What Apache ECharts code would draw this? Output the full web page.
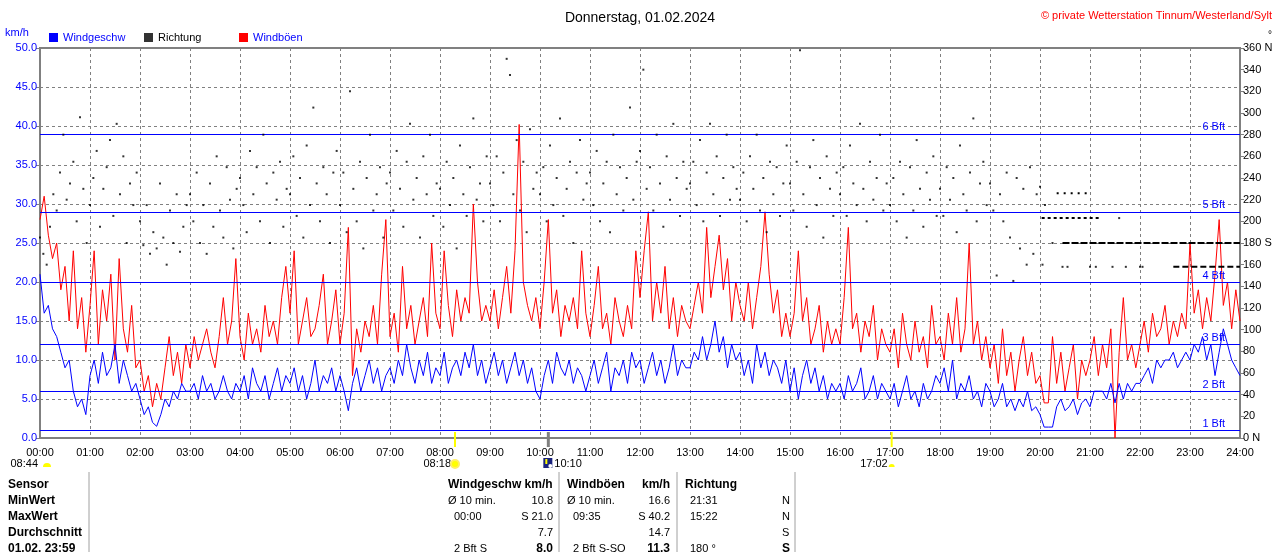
<!DOCTYPE html>
<html>
<head>
<meta charset="utf-8">
<title>Wind Tinnum 01.02.2024</title>
<script src="https://cdn.jsdelivr.net/npm/echarts@6/dist/echarts.min.js"></script>
<style>
  html, body { margin: 0; padding: 0; background: #fff; }
  #main { width: 1280px; height: 552px; }
</style>
</head>
<body>
<div id="main"></div>
<script>
// Windgeschwindigkeit km/h, alle 5 Minuten von 00:00 bis 24:00 (eine Zeile pro Stunde)
var windSpeed = [
  21, 16, 17, 14, 13, 11, 9, 10, 6, 4, 5, 3,
  8, 10, 7, 11, 8, 9, 12, 7, 10, 8, 6, 7,
  5, 3, 4, 2, 1.5, 3, 5, 4, 6, 5, 7, 6,
  6, 7, 5, 8, 6, 7, 5, 6, 8, 6, 5, 7,
  6, 8, 5, 9, 7, 6, 8, 5, 7, 9, 6, 8,
  7, 9, 6, 8, 5, 7, 10, 6, 8, 7, 9, 6,
  8, 6, 3.5, 7, 9, 6, 8, 10, 7, 9, 6, 8,
  9, 7, 10, 8, 12, 9, 7, 10, 8, 11, 7, 9,
  8, 11, 7, 9, 10, 8, 11, 9, 12, 8, 10, 7,
  9, 11, 8, 10, 7, 9, 11, 8, 10, 7, 9, 6,
  5, 8, 10, 7, 11, 9, 8, 10, 7, 9, 8, 6,
  8, 10, 7, 9, 11, 6, 9, 8, 10, 7, 11, 9,
  10, 7, 9, 11, 8, 10, 7, 9, 12, 8, 10, 9,
  9, 11, 10, 13, 10, 12, 15, 11, 13, 9, 12, 10,
  11, 8, 10, 7, 12, 9, 11, 8, 10, 9, 7, 10,
  6, 9, 5, 8, 10, 7, 9, 6, 8, 5, 7, 6,
  7, 5, 8, 6, 7, 9, 5, 6, 8, 5, 7, 6,
  5, 7, 4, 6, 8, 5, 6, 4, 7, 5, 6, 8,
  7, 9, 6, 10, 5, 7, 6, 8, 5, 6, 4, 7,
  6, 4, 5, 7, 4, 5, 3.5, 5, 4, 6, 3.5, 4,
  3, 1.4, 1.4, 1.4, 4, 5, 3.5, 4, 5, 3, 4.5, 5,
  4, 6, 6, 6, 5, 7, 4.5, 7, 5, 7, 6, 7,
  7, 8, 9, 7, 10, 9, 10, 10, 11, 9, 10, 11,
  10, 12, 11, 13, 10, 12, 8, 11, 14, 12, 10, 9,
  8
];

// Windböen km/h, gleiche Zeitpunkte
var windGust = [
  28, 31, 26, 23, 25, 19, 22, 15, 24, 14, 18, 11,
  17, 24, 12, 19, 15, 21, 10, 23, 14, 11, 17, 9,
  10, 6, 8, 4, 7, 5, 9, 13, 8, 11, 7, 12,
  9, 13, 10, 12, 14, 11, 9, 13, 18, 12, 15, 23,
  13, 10, 16, 12, 14, 11, 17, 13, 15, 12, 18, 22,
  16, 24, 12, 15, 18, 13, 14, 17, 21, 12, 15, 19,
  12, 16, 27, 8, 14, 11, 15, 13, 17, 12, 21, 28,
  13, 16, 11, 22, 14, 17, 12, 15, 18, 13, 25, 16,
  14, 24, 17, 13, 19, 15, 18, 16, 30, 20, 15, 17,
  15, 19, 14, 18, 22, 16, 24, 40.2, 20, 17, 15, 18,
  14, 20, 28, 16, 19, 13, 17, 15, 18, 14, 24, 16,
  13, 17, 22, 14, 16, 12, 18, 15, 13, 17, 14, 24,
  18, 24, 29, 15, 20, 16, 22, 14, 18, 13, 17, 15,
  14, 17, 20, 16, 27, 18, 22, 26, 19, 23, 15, 20,
  17, 15, 20, 14, 18, 22, 29, 21, 16, 19, 13, 16,
  13, 16, 24, 15, 18, 12, 14, 17, 11, 15, 12, 14,
  12, 18, 27, 14, 16, 11, 15, 13, 17, 10, 14, 12,
  11, 14, 9, 16, 12, 10, 15, 11, 13, 9, 17, 12,
  13, 10, 16, 12, 18, 11, 14, 25, 12, 15, 10, 13,
  9, 12, 7, 14, 8, 11, 6, 10, 13, 8, 11, 7,
  8, 4.5, 4.5, 13, 7, 11, 6, 9, 12, 5, 10, 8,
  10, 13, 8, 12, 9, 14, 0, 11, 18, 10, 12, 9,
  12, 15, 11, 16, 13, 14, 17, 12, 15, 13, 16, 14,
  25, 16, 19, 14, 18, 15, 21, 28, 17, 20, 14, 19,
  15
];

// Windrichtung in Grad, alle 4 Minuten von 00:00 bis 19:56
var windDir = [
  185, 170, 160, 195, 225, 210, 245, 280, 220, 235, 255, 200, 296, 230, 180,
  215, 240, 265, 195, 230, 250, 275, 205, 290, 225, 260, 180, 235, 215, 245,
  200, 178, 215, 170, 190, 175, 235, 185, 160, 210, 180, 225, 172, 195, 215,
  225, 200, 245, 180, 215, 170, 235, 195, 260, 210, 185, 250, 220, 175, 230,
  240, 215, 190, 265, 225, 250, 200, 280, 235, 180, 245, 220, 255, 195, 230,
  225, 260, 205, 240, 185, 270, 215, 305, 235, 200, 250, 225, 180, 245, 265,
  215, 245, 190, 320, 230, 200, 255, 175, 240, 280, 210, 225, 250, 185, 235,
  245, 210, 265, 230, 195, 255, 290, 220, 240, 185, 260, 225, 280, 205, 235,
  230, 195, 255, 215, 240, 175, 270, 225, 205, 250, 295, 220, 235, 200, 260,
  235, 215, 260, 200, 245, 350, 335, 225, 275, 210, 255, 190, 285, 230, 245,
  225, 250, 200, 270, 215, 240, 295, 205, 230, 255, 180, 245, 275, 220, 235,
  245, 215, 265, 200, 235, 255, 190, 280, 225, 250, 210, 240, 305, 220, 255,
  265, 340, 230, 250, 210, 280, 235, 195, 260, 220, 290, 240, 205, 255, 230,
  235, 255, 215, 275, 200, 245, 290, 225, 260, 205, 240, 280, 220, 250, 230,
  220, 245, 200, 260, 230, 280, 210, 240, 190, 255, 225, 250, 205, 235, 270,
  235, 210, 255, 358, 225, 195, 250, 275, 215, 240, 185, 260, 230, 205, 245,
  225, 250, 205, 270, 235, 215, 290, 230, 200, 255, 220, 240, 280, 210, 235,
  215, 240, 200, 255, 225, 185, 250, 210, 275, 230, 195, 245, 220, 260, 205,
  230, 205, 250, 220, 240, 190, 270, 225, 210, 245, 295, 200, 235, 255, 215,
  235, 210, 150, 225, 200, 245, 185, 145, 240, 175, 230, 160, 250, 170, 225
];

// einzelne Richtungswerte nach 20:00 [Minute, Grad]
var lateDirs = [
  [1200, 232], [1203, 160], [1206, 215], [1215, 180], [1227, 158], [1233, 158],
  [1260, 158], [1267, 158], [1287, 158], [1295, 203], [1303, 158], [1320, 158], [1323, 158]
];

// fast konstante Richtung ab 20:00 [von Minute, bis Minute, Grad]
var dirRows = [
  [1220, 1257, 226],
  [1202, 1272, 203],
  [1227, 1440, 180],
  [1360, 1440, 158]
];

var bftLevels = [1, 6, 12, 20, 29, 39];
var compassTicks = { 0: '0 N', 180: '180 S', 360: '360 N' };

// Sonne / Mond (Minute des Tages)
var sunRise = 498, moonRise = 610, sunSet = 1022;

var rowLabels = ['Sensor', 'MinWert', 'MaxWert', 'Durchschnitt', '01.02. 23:59'];
var speedStats = [['Ø 10 min.', '10.8'], ['00:00', 'S 21.0'], ['', '7.7'], ['2 Bft S', '8.0']];
var gustStats = [['Ø 10 min.', '16.6'], ['09:35', 'S 40.2'], ['', '14.7'], ['2 Bft S-SO', '11.3']];
var dirStats = [['21:31', 'N'], ['15:22', 'N'], ['', 'S'], ['180 °', 'S']];

var FONT = '"Liberation Sans", Arial, sans-serif';

var speedData = windSpeed.map(function (v, i) { return [i * 5, v]; });
var gustData = windGust.map(function (v, i) { return [i * 5, v]; });
var dirData = windDir.map(function (v, i) { return [i * 4, v]; }).concat(lateDirs);

var rowSeries = dirRows.map(function (r, i) {
  var dash = [[2, 5], [3, 3], [7, 2], [6, 3]][i];
  return {
    name: 'Richtung', type: 'line', yAxisIndex: 1, z: 4,
    data: [[r[0], r[2]], [r[1], r[2]]],
    showSymbol: false, silent: true,
    lineStyle: { color: '#000', width: 2, type: dash }
  };
});

var chart = echarts.init(document.getElementById('main'));

chart.setOption({
  animation: false,
  textStyle: { fontFamily: FONT },
  title: [
    { text: 'Donnerstag, 01.02.2024', left: 'center', top: 6,
      textStyle: { fontSize: 14, fontWeight: 'normal', color: '#000', fontFamily: FONT } },
    { text: '© private Wetterstation Tinnum/Westerland/Sylt', right: 3, top: 5,
      textStyle: { fontSize: 11, fontWeight: 'normal', color: '#ff0000', fontFamily: FONT } }
  ],
  legend: [
    { data: [{ name: 'Windgeschw', textStyle: { color: '#0000ff' } }], left: 49, top: 32 },
    { data: [{ name: 'Richtung', textStyle: { color: '#000' } }], left: 144, top: 32 },
    { data: [{ name: 'Windböen', textStyle: { color: '#0000ff' } }], left: 239, top: 32 }
  ].map(function (l) {
    l.icon = 'rect'; l.itemWidth = 9; l.itemHeight = 9; l.itemGap = 0; l.padding = 0;
    l.selectedMode = false;
    l.textStyle = Object.assign({ fontSize: 11, fontFamily: FONT }, l.data[0].textStyle);
    return l;
  }),
  grid: { left: 40, right: 40, top: 48, bottom: 114, show: true, borderColor: '#808080', borderWidth: 2 },
  xAxis: {
    type: 'value', min: 0, max: 1440, interval: 60,
    axisLine: { show: false }, axisTick: { show: false },
    axisLabel: {
      color: '#000', fontSize: 11, margin: 9,
      formatter: function (v) { var h = v / 60; return (h < 10 ? '0' : '') + h + ':00'; }
    },
    splitLine: { show: true, lineStyle: { color: '#808080', type: [3, 3] } }
  },
  yAxis: [
    {
      type: 'value', min: 0, max: 50, interval: 5, position: 'left',
      axisLine: { show: true, lineStyle: { color: '#808080', width: 2 } },
      axisTick: { show: true, length: 4, lineStyle: { color: '#808080' } },
      axisLabel: { color: '#0000ff', fontSize: 11, margin: 3, formatter: function (v) { return v.toFixed(1); } },
      splitLine: { show: true, lineStyle: { color: '#808080', type: [3, 3] } }
    },
    {
      type: 'value', min: 0, max: 360, interval: 20, position: 'right',
      axisLine: { show: true, lineStyle: { color: '#808080', width: 2 } },
      axisTick: { show: true, length: 4, lineStyle: { color: '#808080' } },
      axisLabel: { color: '#000', fontSize: 11, margin: 3,
        formatter: function (v) { return compassTicks[v] || String(v); } },
      splitLine: { show: false }
    }
  ],
  series: [
    {
      name: 'Windböen', type: 'line', data: gustData, z: 2,
      showSymbol: false, symbol: 'none',
      lineStyle: { color: '#ff0000', width: 1 }, itemStyle: { color: '#ff0000' }
    },
    {
      name: 'Windgeschw', type: 'line', data: speedData, z: 3,
      showSymbol: false, symbol: 'none',
      lineStyle: { color: '#0000ff', width: 1 }, itemStyle: { color: '#0000ff' },
      markLine: {
        silent: true, symbol: 'none', animation: false,
        lineStyle: { color: '#0000ff', width: 1, type: 'solid' },
        label: {
          position: 'insideEndTop', distance: [15, 1], color: '#0000ff', fontSize: 11,
          formatter: function (p) { return p.name; }
        },
        data: bftLevels.map(function (v, i) { return { yAxis: v, name: (i + 1) + ' Bft' }; })
      }
    },
    {
      name: 'Richtung', type: 'scatter', yAxisIndex: 1, data: dirData, z: 5,
      symbol: 'rect', symbolSize: 2, itemStyle: { color: '#000' }
    }
  ].concat(rowSeries)
});

// Beschriftungen unter der Achse und Tabelle
function px(minute) { return chart.convertToPixel({ gridIndex: 0 }, [minute, 0]); }

var g = [];
function txt(x, y, s, opt) {
  opt = opt || {};
  g.push({
    type: 'text', silent: true, z: 10,
    style: {
      x: x, y: y, text: s, fill: opt.color || '#000',
      font: (opt.bold ? 'bold ' : '') + (opt.size || 11) + 'px ' + FONT,
      align: opt.align || 'left', verticalAlign: 'middle'
    }
  });
}
function vline(x, y1, y2, color, w) {
  g.push({ type: 'line', silent: true, z: 10,
    shape: { x1: x, y1: y1, x2: x, y2: y2 }, style: { stroke: color, lineWidth: w } });
}

var p0 = px(0), pRise = px(sunRise), pMoon = px(moonRise), pSet = px(sunSet);
var yBase = p0[1];

txt(5, 33, 'km/h', { color: '#0000ff' });
txt(1268, 35, '°', { size: 10 });

vline(pRise[0], yBase - 6, yBase + 9, '#ffff00', 2);
vline(pSet[0], yBase - 6, yBase + 9, '#ffff00', 2);
vline(pMoon[0], yBase - 6, yBase + 9, '#808080', 3);

// links 08:44 mit halber Sonne
txt(p0[0] - 2, 464, '08:44', { align: 'right' });
g.push({ type: 'sector', silent: true, z: 10,
  shape: { cx: p0[0] + 7, cy: 467, r: 4, startAngle: Math.PI, endAngle: 2 * Math.PI },
  style: { fill: '#ffff00' } });
// Sonnenaufgang
txt(pRise[0] - 4, 464, '08:18', { align: 'right' });
g.push({ type: 'circle', silent: true, z: 10,
  shape: { cx: pRise[0], cy: 464, r: 4 }, style: { fill: '#ffff00', stroke: '#ffee66', lineWidth: 2 } });
// Mond
g.push({ type: 'rect', silent: true, z: 10,
  shape: { x: pMoon[0] - 5, y: 458, width: 9, height: 10 }, style: { fill: '#1a237e' } });
g.push({ type: 'rect', silent: true, z: 11,
  shape: { x: pMoon[0] - 3, y: 459, width: 2, height: 5 }, style: { fill: '#ffff00' } });
g.push({ type: 'circle', silent: true, z: 11,
  shape: { cx: pMoon[0] + 2, cy: 466, r: 2 }, style: { fill: '#ffffff' } });
txt(pMoon[0] + 6, 464, '10:10');
// Sonnenuntergang
txt(pSet[0] - 4, 464, '17:02', { align: 'right' });
g.push({ type: 'sector', silent: true, z: 10,
  shape: { cx: pSet[0], cy: 467, r: 3, startAngle: Math.PI, endAngle: 2 * Math.PI },
  style: { fill: '#ffff00' } });

// Tabelle
var rowY = [485, 501, 517, 533, 549];
vline(89, 472, 552, '#a0a0a0', 1);
vline(559, 472, 552, '#a0a0a0', 1);
vline(677, 472, 552, '#a0a0a0', 1);
vline(795, 472, 552, '#a0a0a0', 1);

rowLabels.forEach(function (s, i) { txt(8, rowY[i], s, { bold: true, size: 12 }); });

txt(448, rowY[0], 'Windgeschw km/h', { bold: true, size: 12 });
speedStats.forEach(function (r, i) {
  txt(i === 0 ? 448 : 454, rowY[i + 1], r[0], { size: 11 });
  txt(553, rowY[i + 1], r[1], { align: 'right', bold: i === 3, size: i === 3 ? 12 : 11 });
});

txt(567, rowY[0], 'Windböen', { bold: true, size: 12 });
txt(670, rowY[0], 'km/h', { bold: true, size: 12, align: 'right' });
gustStats.forEach(function (r, i) {
  txt(i === 0 ? 567 : 573, rowY[i + 1], r[0], { size: 11 });
  txt(670, rowY[i + 1], r[1], { align: 'right', bold: i === 3, size: i === 3 ? 12 : 11 });
});

txt(685, rowY[0], 'Richtung', { bold: true, size: 12 });
dirStats.forEach(function (r, i) {
  txt(690, rowY[i + 1], r[0], { size: 11 });
  txt(782, rowY[i + 1], r[1], { bold: i === 3, size: i === 3 ? 12 : 11 });
});

chart.setOption({ graphic: g });
</script>
</body>
</html>
